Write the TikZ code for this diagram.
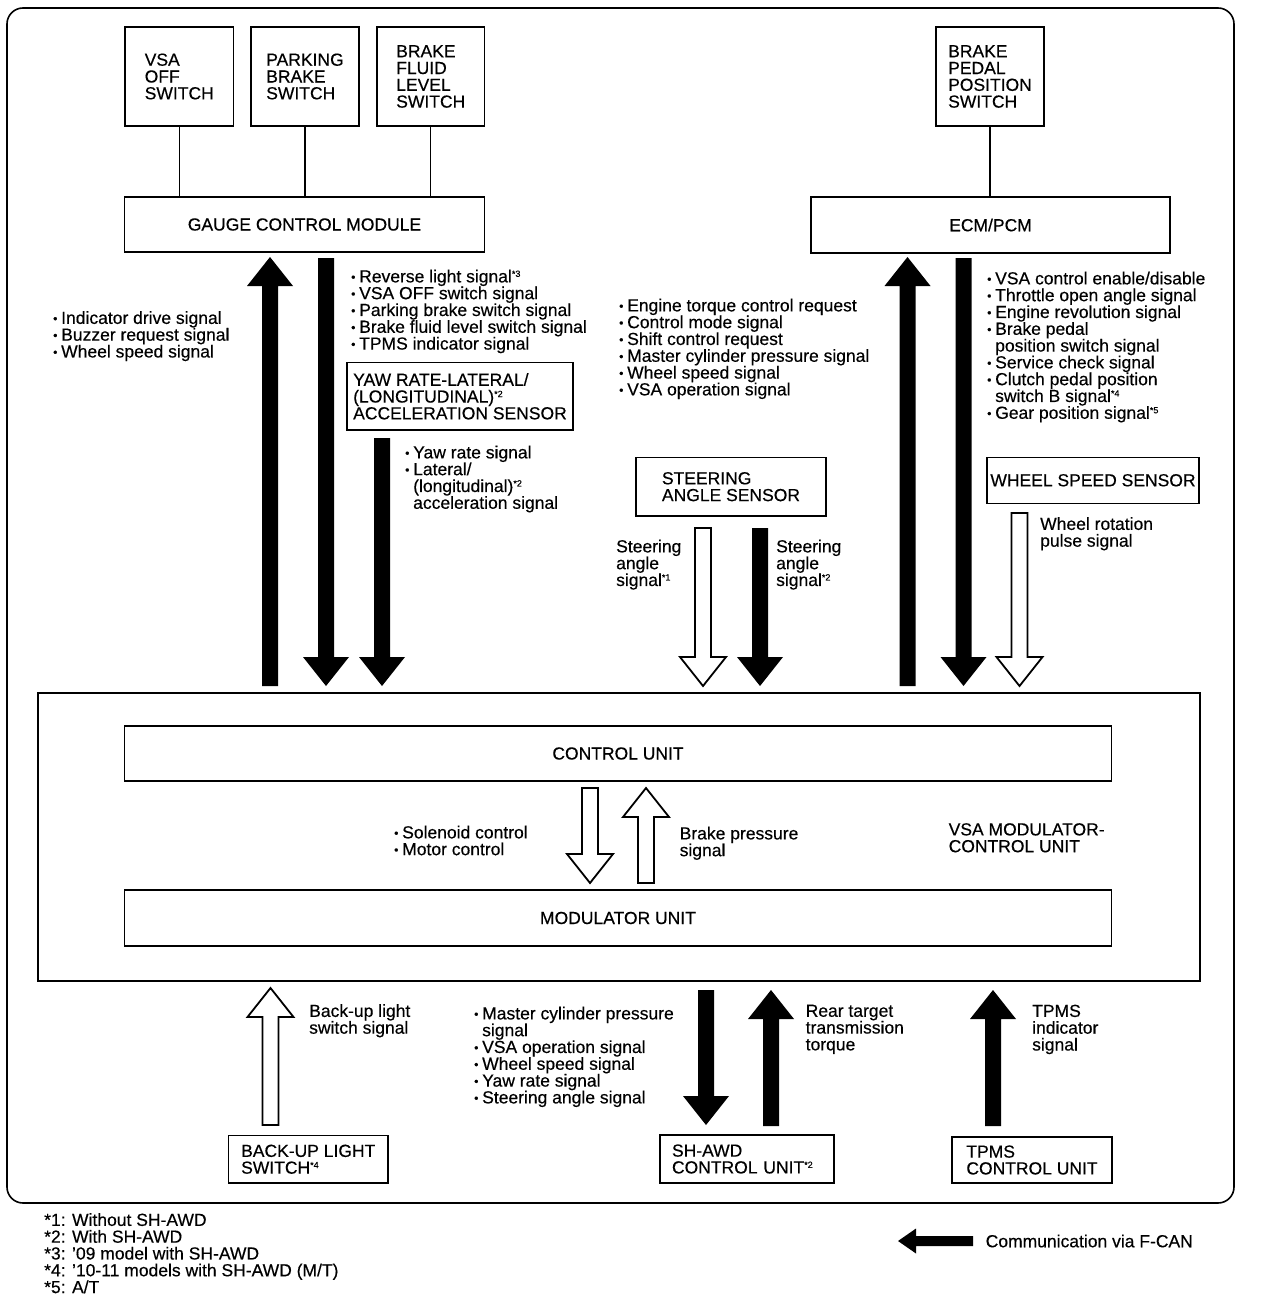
\documentclass[tikz,border=0pt]{standalone}
\usepackage{fontspec}
\setmainfont{Liberation Sans}[FakeBold=0.4]
\usetikzlibrary{calc}
\newcommand\fs{\fontsize{17.5}{16.8}\selectfont}
\newcommand\fnote[1]{\raisebox{5.5pt}{\fontsize{9}{9}\selectfont *#1}}
\newcommand\bulx{\makebox[8pt][l]{\raisebox{1.2pt}{\fontsize{12}{12}\selectfont •}}}
\newcommand\hind{\hspace*{8pt}}
% #1 style, #2 tail, #3 tip, #4 half shaft, #5 half head, #6 head length
\newcommand\fatarrow[6]{%
  \coordinate (hb) at ($(#3)!#6!(#2)$);
  \path[#1] ($(#2)!#4!90:(#3)$) -- ($(hb)!#4!-90:(#2)$) -- ($(hb)!#5!-90:(#2)$) -- (#3)
    -- ($(hb)!#5!90:(#2)$) -- ($(hb)!#4!90:(#2)$) -- ($(#2)!#4!-90:(#3)$) -- cycle;}
\tikzset{
  box/.style={draw, line width=1.6pt, inner sep=0pt, align=left, font=\fs},
  txt/.style={anchor=north west, inner sep=0pt, align=left, font=\fs},
  solidarr/.style={fill=black},
  hollowarr/.style={draw=black, fill=white, line width=1.8pt, line join=miter},
  wire/.style={line width=1.3pt},
}
\begin{document}
\begin{tikzpicture}[x=1pt, y=-1pt]
\useasboundingbox (0,0) rectangle (1264,1300);
\node[draw, line width=1.6pt, rounded corners=16pt, minimum width=1227pt, minimum height=1195pt, inner sep=0pt] (frame) at (620.5,605.5) {};

% top switches and modules
\node[box, minimum width=108.5pt, minimum height=99pt] (vsaoff) at (179.25,76.5) {VSA\\OFF\\SWITCH};
\node[box, minimum width=108pt, minimum height=99pt] (parking) at (305,76.5) {PARKING\\BRAKE\\SWITCH};
\node[box, minimum width=107.5pt, minimum height=99pt] (fluid) at (430.75,76.5) {BRAKE\\FLUID\\LEVEL\\SWITCH};
\node[box, minimum width=108pt, minimum height=99pt] (pedal) at (990,76.5) {BRAKE\\PEDAL\\POSITION\\SWITCH};
\node[box, minimum width=360pt, minimum height=55pt] (gauge) at (304.5,224.5) {GAUGE CONTROL MODULE};
\node[box, minimum width=359pt, minimum height=56pt] (ecm) at (990.5,225) {ECM/PCM};
\draw[wire] (vsaoff.south) -- (vsaoff.south |- gauge.north);
\draw[wire] (parking.south) -- (parking.south |- gauge.north);
\draw[wire] (fluid.south) -- (fluid.south |- gauge.north);
\draw[wire] (pedal.south) -- (pedal.south |- ecm.north);

% sensors
\node[box, minimum width=226pt, minimum height=67.3pt] (yaw) at (460,396.3) {YAW RATE-LATERAL/\\(LONGITUDINAL)\fnote{2}\\ACCELERATION SENSOR};
\node[box, minimum width=190pt, minimum height=58.7pt] (steer) at (731,486.7) {STEERING\\ANGLE SENSOR};
\node[box, minimum width=212pt, minimum height=46pt] (wss) at (1093,480.3) {WHEEL SPEED SENSOR};

% VSA modulator-control unit
\node[box, minimum width=1162pt, minimum height=288pt] (vsamod) at (619,837) {};
\node[box, minimum width=987pt, minimum height=55pt] (cu) at (618,753.5) {CONTROL UNIT};
\node[box, minimum width=987pt, minimum height=56pt] (mu) at (618,918) {MODULATOR UNIT};

% bottom units
\node[box, minimum width=159.5pt, minimum height=47.5pt] (backup) at (308.25,1159.25) {BACK-UP LIGHT\\SWITCH\fnote{4}};
\node[box, minimum width=174pt, minimum height=48pt, text width=150pt, inner xsep=12pt] (shawd) at (747,1159) {SH-AWD\\CONTROL UNIT\fnote{2}};
\node[box, minimum width=160pt, minimum height=46pt] (tpms) at (1032,1160) {TPMS\\CONTROL UNIT};

% arrows: upper section
\coordinate (a1s) at (270,686);   \coordinate (a1e) at (270,257);
\coordinate (a2s) at (326,258);   \coordinate (a2e) at (326,686);
\coordinate (a3s) at (382,438);   \coordinate (a3e) at (382,686);
\coordinate (a4s) at (703,528);   \coordinate (a4e) at (703,686);
\coordinate (a5s) at (760,528);   \coordinate (a5e) at (760,686);
\coordinate (a6s) at (907.5,686); \coordinate (a6e) at (907.5,257);
\coordinate (a7s) at (963.5,258); \coordinate (a7e) at (963.5,686);
\coordinate (a8s) at (1019.5,513);\coordinate (a8e) at (1019.5,686);
\fatarrow{solidarr}{a1s}{a1e}{8pt}{23pt}{29pt}
\fatarrow{solidarr}{a2s}{a2e}{8pt}{23pt}{29pt}
\fatarrow{solidarr}{a3s}{a3e}{8pt}{23pt}{29pt}
\fatarrow{hollowarr}{a4s}{a4e}{8pt}{23pt}{29pt}
\fatarrow{solidarr}{a5s}{a5e}{8pt}{23pt}{29pt}
\fatarrow{solidarr}{a6s}{a6e}{8pt}{23pt}{29pt}
\fatarrow{solidarr}{a7s}{a7e}{8pt}{23pt}{29pt}
\fatarrow{hollowarr}{a8s}{a8e}{8pt}{23pt}{29pt}

% arrows: inside modulator
\coordinate (b1s) at (590,788); \coordinate (b1e) at (590,883);
\coordinate (b2s) at (646,883); \coordinate (b2e) at (646,788);
\fatarrow{hollowarr}{b1s}{b1e}{8pt}{23pt}{29pt}
\fatarrow{hollowarr}{b2s}{b2e}{8pt}{23pt}{29pt}

% arrows: lower section
\coordinate (c1s) at (270.5,1125); \coordinate (c1e) at (270.5,988);
\coordinate (c2s) at (706,990);    \coordinate (c2e) at (706,1125);
\coordinate (c3s) at (771,1126);   \coordinate (c3e) at (771,990);
\coordinate (c4s) at (993,1126);   \coordinate (c4e) at (993,990);
\fatarrow{hollowarr}{c1s}{c1e}{8pt}{23pt}{29pt}
\fatarrow{solidarr}{c2s}{c2e}{8pt}{23pt}{29pt}
\fatarrow{solidarr}{c3s}{c3e}{8pt}{23pt}{29pt}
\fatarrow{solidarr}{c4s}{c4e}{8pt}{23pt}{29pt}

% signal labels
\node[txt] (indsig) at (53,311) {\bulx Indicator drive signal\\\bulx Buzzer request signal\\\bulx Wheel speed signal};
\node[txt] (gcmsig) at (351,269.5) {\bulx Reverse light signal\fnote{3}\\\bulx VSA OFF switch signal\\\bulx Parking brake switch signal\\\bulx Brake fluid level switch signal\\\bulx TPMS indicator signal};
\node[txt] (yawsig) at (405,445.5) {\bulx Yaw rate signal\\\bulx Lateral/\\\hind(longitudinal)\fnote{2}\\\hind acceleration signal};
\node[txt] (engsig) at (619,298.5) {\bulx Engine torque control request\\\bulx Control mode signal\\\bulx Shift control request\\\bulx Master cylinder pressure signal\\\bulx Wheel speed signal\\\bulx VSA operation signal};
\node[txt] (ecmsig) at (987,271.5) {\bulx VSA control enable/disable\\\bulx Throttle open angle signal\\\bulx Engine revolution signal\\\bulx Brake pedal\\\hind position switch signal\\\bulx Service check signal\\\bulx Clutch pedal position\\\hind switch B signal\fnote{4}\\\bulx Gear position signal\fnote{5}};
\node[txt] (stsig1) at (616,539.5) {Steering\\angle\\signal\fnote{1}};
\node[txt] (stsig2) at (776,539.5) {Steering\\angle\\signal\fnote{2}};
\node[txt] (wrpsig) at (1040,517) {Wheel rotation\\pulse signal};
\node[txt] (solsig) at (394,825.5) {\bulx Solenoid control\\\bulx Motor control};
\node[txt] (bpsig) at (679.5,826.5) {Brake pressure\\signal};
\node[txt] (vsamodt) at (948.5,823) {VSA MODULATOR-\\CONTROL UNIT};
\node[txt] (busig) at (309,1004) {Back-up light\\switch signal};
\node[txt] (mcpsig) at (474,1006.5) {\bulx Master cylinder pressure\\\hind signal\\\bulx VSA operation signal\\\bulx Wheel speed signal\\\bulx Yaw rate signal\\\bulx Steering angle signal};
\node[txt] (rttsig) at (805.5,1004.5) {Rear target\\transmission\\torque};
\node[txt] (tpmssig) at (1032,1004.5) {TPMS\\indicator\\signal};

% footnotes
\node[txt] (foot) at (44,1213) {*1: Without SH-AWD\\*2: With SH-AWD\\*3: ’09 model with SH-AWD\\*4: ’10-11 models with SH-AWD (M/T)\\*5: A/T};

% legend
\node[anchor=west, inner sep=0pt, font=\fs] (legt) at (985.5,1241) {Communication via F-CAN};
\coordinate (ls) at (973,1241); \coordinate (le) at (898,1241);
\fatarrow{solidarr}{ls}{le}{5pt}{12.5pt}{18pt}
\end{tikzpicture}
\end{document}
